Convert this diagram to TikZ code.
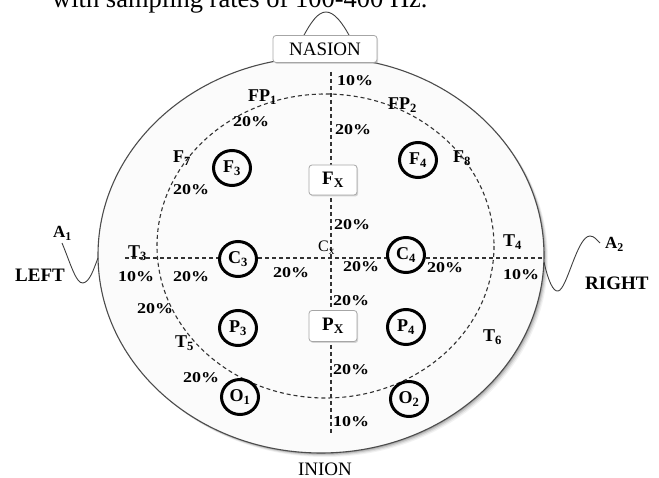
\documentclass[tikz,border=0pt]{standalone}
\usepackage{fontspec}
\setmainfont{Liberation Serif}
\newfontfamily\pctfont[FakeStretch=1.2]{Liberation Serif}
\usetikzlibrary{shapes.geometric,shadows}
\newcommand{\lowidx}[1]{\textsubscript{#1}}

\begin{document}
\begin{tikzpicture}[x=1pt,y=-1pt,
  guide/.style={line width=1.1pt, draw=black!80, dash pattern=on 4pt off 3pt},
  electrode/.style={draw=black, line width=3pt, ellipse, fill=gray!3,
    minimum width=37pt, minimum height=35pt, inner sep=0pt,
    font=\fontsize{18}{18}\selectfont\bfseries},
  site/.style={inner sep=0pt, anchor=base west, font=\fontsize{18}{18}\selectfont\bfseries},
  pct/.style={inner sep=0pt, anchor=base west, font=\pctfont\fontsize{15}{15}\selectfont\bfseries},
  side/.style={inner sep=0pt, anchor=base west, font=\fontsize{19}{19}\selectfont\bfseries},
  tagbox/.style={draw=black!35, line width=0.8pt, rounded corners=3pt, fill=white,
    inner sep=0pt, drop shadow={shadow xshift=1.2pt, shadow yshift=-1.5pt, opacity=0.3},
    font=\fontsize{19}{19}\selectfont},
  wire/.style={line width=0.9pt, draw=black!75}
]
\useasboundingbox (0,0) rectangle (659,478);
\clip (0,0) rectangle (659,478);

% sentence running above the figure
\node[inner sep=0pt, anchor=base west, font=\fontsize{26.5}{26.5}\selectfont] (caption) at (52,8)
  {with sampling rates of 100-400 Hz.};

% soft shadow under the head outline
\foreach \s/\o in {4/0.05, 3/0.08, 2/0.12, 1/0.15}
  \fill[black, opacity=\o] (321+\s,255+\s) ellipse [x radius=223, y radius=198];

% head outline
\node[ellipse, draw=black!70, line width=1.1pt, fill=gray!3, inner sep=0pt,
  minimum width=446pt, minimum height=396pt] (head) at (321,255) {};

% nose
\coordinate (noseL) at (303,37);
\coordinate (noseR) at (350,37);
\draw[wire] (noseL) .. controls (311,22) and (318,12) .. (326,12)
  .. controls (334,12) and (342,22) .. (noseR);

% ears
\coordinate (earL) at (98,258);
\coordinate (earLtip) at (62,243);
\draw[wire] (earLtip) .. controls (70,262) and (76,284) .. (83,283)
  .. controls (90,282) and (94,268) .. (earL);
\coordinate (earR) at (544,262);
\coordinate (earRtip) at (600,243);
\draw[wire] (earR) .. controls (548,280) and (553,292) .. (558,291)
  .. controls (567,290) and (577,236) .. (590,236)
  .. controls (594,236) and (597,240) .. (earRtip);

% dashed guide lines
\draw[guide] (325.5,246) ellipse [x radius=168.5, y radius=152];
\coordinate (midTop) at (331,72);
\coordinate (midBot) at (331,433);
\coordinate (crossL) at (125,258);
\coordinate (crossR) at (544,258);
\draw[guide] (midTop) -- (midBot);
\draw[guide] (crossL) -- (crossR);

% labelled boxes
\node[tagbox, minimum width=104pt, minimum height=27pt] (nasion) at (325,49) {NASION};
\node[tagbox, minimum width=48pt, minimum height=30pt, font=\fontsize{19}{19}\selectfont\bfseries] (Fx) at (333,180) {F\lowidx{X}};
\node[tagbox, minimum width=48pt, minimum height=31pt, font=\fontsize{19}{19}\selectfont\bfseries] (Px) at (333,326) {P\lowidx{X}};

% electrodes
\node[electrode] (F3) at (232,168) {F\lowidx{3}};
\node[electrode] (F4) at (418,160) {F\lowidx{4}};
\node[electrode] (C3) at (238,259) {C\lowidx{3}};
\node[electrode] (C4) at (406,255) {C\lowidx{4}};
\node[electrode] (P3) at (238,328) {P\lowidx{3}};
\node[electrode] (P4) at (406,327) {P\lowidx{4}};
\node[electrode] (O1) at (240,397) {O\lowidx{1}};
\node[electrode] (O2) at (409,399) {O\lowidx{2}};

% position names on the guide lines
\node[site] (FP1) at (248,102) {FP\lowidx{1}};
\node[site] (FP2) at (388,110) {FP\lowidx{2}};
\node[site] (F7) at (173,163) {F\lowidx{7}};
\node[site] (F8) at (453,163) {F\lowidx{8}};
\node[site] (T3) at (128,258) {T\lowidx{3}};
\node[site] (T4) at (503,247) {T\lowidx{4}};
\node[site] (T5) at (175,348) {T\lowidx{5}};
\node[site] (T6) at (483,342) {T\lowidx{6}};
\node[site, font=\fontsize{16}{16}\selectfont] (Cx) at (318,252) {C\lowidx{x}};

% spacing percentages
\node[pct] (p1) at (337,86) {10\%};
\node[pct] (p2) at (233,127) {20\%};
\node[pct] (p3) at (335,135) {20\%};
\node[pct] (p4) at (173,195) {20\%};
\node[pct] (p5) at (334,230) {20\%};
\node[pct] (p6) at (273,278) {20\%};
\node[pct] (p7) at (343,272) {20\%};
\node[pct] (p8) at (427,273) {20\%};
\node[pct] (p9) at (503,280) {10\%};
\node[pct] (p10) at (118,282) {10\%};
\node[pct] (p11) at (173,282) {20\%};
\node[pct] (p12) at (137,314) {20\%};
\node[pct] (p13) at (333,306) {20\%};
\node[pct] (p14) at (183,383) {20\%};
\node[pct] (p15) at (333,375) {20\%};
\node[pct] (p16) at (333,427) {10\%};

% side and reference labels
\node[site, font=\fontsize{17}{17}\selectfont\bfseries] (A1) at (53,238) {A\lowidx{1}};
\node[site, font=\fontsize{17}{17}\selectfont\bfseries] (A2) at (605,249) {A\lowidx{2}};
\node[side] (left) at (15,282) {LEFT};
\node[side] (right) at (585,290) {RIGHT};
\node[inner sep=0pt, anchor=base, font=\fontsize{19}{19}\selectfont] (inion) at (325,475) {INION};
\end{tikzpicture}
\end{document}
